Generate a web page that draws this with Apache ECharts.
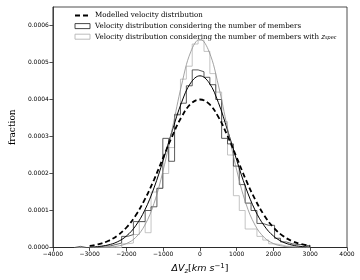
<!DOCTYPE html>
<html>
<head>
<meta charset="utf-8">
<script src="https://cdn.jsdelivr.net/npm/echarts@6/dist/echarts.min.js"></script>
<style>html,body{margin:0;padding:0;background:#fff}#c{width:360px;height:280px}</style>
</head>
<body>
<div id="c"></div>
<script>
// Smooth curves sampled every 250 km/s
const curveX = [-3000,-2750,-2500,-2250,-2000,-1750,-1500,-1250,-1000,-750,-500,-250,0,250,500,750,1000,1250,1500,1750,2000,2250,2500,2750,3000];
const modelled = [0.0000044,0.0000091,0.0000176,0.0000318,0.0000541,0.0000865,0.000130,0.000183,0.000243,0.000302,0.000353,0.000388,0.000400,0.000388,0.000353,0.000302,0.000243,0.000183,0.000130,0.0000865,0.0000541,0.0000318,0.0000176,0.0000091,0.0000044];
const fitMembers = [0.0000011,0.0000028,0.0000068,0.0000151,0.000031,0.0000585,0.000101,0.000161,0.000236,0.000317,0.000392,0.000445,0.000464,0.000445,0.000392,0.000317,0.000236,0.000161,0.000101,0.0000585,0.000031,0.0000151,0.0000068,0.0000028,0.0000011];
const fitZspec = [0.0000001,0.0000003,0.0000011,0.0000037,0.0000106,0.000027,0.0000604,0.000119,0.000209,0.000322,0.000439,0.000529,0.000563,0.000529,0.000439,0.000322,0.000209,0.000119,0.0000604,0.000027,0.0000106,0.0000037,0.0000011,0.0000003,0.0000001];

// Histogram bin edges and heights
const histEdges = [-3410,-3250,-3090,-2930,-2770,-2610,-2450,-2290,-2130,-1970,-1810,-1650,-1490,-1330,-1170,-1010,-850,-690,-530,-370,-210,-50,110,270,430,590,750,910,1070,1230,1390,1550,1710,1870,2030,2190,2350,2510,2670,2830,2990];
const histMembers = [0.000003,0,0,0,0.000004,0.000004,0.000008,0.000012,0.000030,0.000035,0.000070,0.000070,0.000100,0.000110,0.000160,0.000295,0.000233,0.000360,0.000390,0.000437,0.000480,0.000475,0.000460,0.000440,0.000400,0.000295,0.000280,0.000220,0.000170,0.000120,0.000100,0.000065,0.000060,0.000060,0.000025,0.000015,0.000010,0.000008,0.000008,0.000004];
const histZspec = [0,0,0,0,0,0,0,0,0.000010,0.000012,0.000035,0.000070,0.000040,0.000150,0.000160,0.000200,0.000270,0.000357,0.000455,0.000490,0.000550,0.000560,0.000530,0.000470,0.000420,0.000340,0.000250,0.000140,0.000100,0.000050,0.000050,0.000030,0.000020,0.000010,0.000008,0.000004,0.000003,0.000002,0.000003,0];

const yTicks = [0,0.0001,0.0002,0.0003,0.0004,0.0005,0.0006];

const names = ['Modelled velocity distribution','Velocity distribution considering the number of members','Velocity distribution considering the number of members with zspec'];

function stepData(edges, vals){
  const d = [[edges[0],0]];
  for (let i=0;i<vals.length;i++) d.push([edges[i], vals[i]]);
  d.push([edges[edges.length-1], 0]);
  return d;
}
function curve(xs, ys){ return xs.map((x,i)=>[x, ys[i]]); }

const chart = echarts.init(document.getElementById('c'), null, {renderer:'canvas'});
const sans = 'DejaVu Sans';
const serif = 'DejaVu Serif';
const lf = 7.1;
chart.setOption({
  animation:false,
  backgroundColor:'#fff',
  grid:{left:40,right:13,top:7,bottom:30,show:true,borderColor:'#222',borderWidth:0.8,backgroundColor:'transparent'},
  legend:{
    orient:'vertical', left:74, top:12, padding:0, itemWidth:15, itemHeight:5, itemGap:3.6,
    textStyle:{fontFamily:serif,fontSize:lf,color:'#000',
      rich:{
        t:{fontFamily:serif,fontSize:lf,color:'#000'},
        z:{fontFamily:sans,fontStyle:'italic',fontSize:lf,color:'#000'},
        s:{fontFamily:sans,fontStyle:'italic',fontSize:5,color:'#000',padding:[3,0,0,0]}
      }},
    formatter: function(n){
      if (n===names[2]) return '{t|Velocity distribution considering the number of members with }{z|z}{s|spec}';
      return n;
    },
    data:[
      {name:names[0], itemStyle:{color:'rgba(0,0,0,0)',borderWidth:0,opacity:0}},
      {name:names[1], icon:'rect', itemStyle:{color:'#fff',borderColor:'#333',borderWidth:0.9}},
      {name:names[2], icon:'rect', itemStyle:{color:'#fff',borderColor:'#b5b5b5',borderWidth:0.9}}
    ]
  },
  xAxis:{
    type:'value', min:-4000, max:4000, interval:1000,
    splitLine:{show:false},
    axisLine:{show:true,onZero:false,lineStyle:{color:'#222',width:0.8}},
    axisTick:{show:true,inside:false,length:3.5,lineStyle:{color:'#222',width:0.8}},
    axisLabel:{fontFamily:sans,fontSize:6,color:'#000',margin:4,
      formatter:v=>String(v).replace('-','\u2212')},
    name:'{a|ΔV}{b|z}{c|[}{a|km s}{d|−1}{c|]}',
    nameLocation:'middle', nameGap:15,
    nameTextStyle:{rich:{
      a:{fontFamily:sans,fontStyle:'italic',fontSize:9.5,color:'#000'},
      b:{fontFamily:sans,fontStyle:'italic',fontSize:7,color:'#000',padding:[5,0,0,0]},
      c:{fontFamily:sans,fontSize:9.5,color:'#000'},
      d:{fontFamily:sans,fontSize:7,color:'#000',padding:[0,0,6,0]}
    }}
  },
  yAxis:{
    type:'value', min:0, max:0.00065, interval:0.0001,
    splitLine:{show:false},
    axisLine:{show:true,onZero:false,lineStyle:{color:'#222',width:0.8}},
    axisTick:{show:true,inside:false,length:3.5,lineStyle:{color:'#222',width:0.8}},
    axisLabel:{fontFamily:sans,fontSize:6,color:'#000',margin:4,showMaxLabel:false,
      formatter:v=>{ return yTicks.some(t=>Math.abs(t-v)<1e-9) ? v.toFixed(4) : ''; }},
    name:'fraction', nameLocation:'middle', nameGap:31, nameRotate:90,
    nameTextStyle:{fontFamily:serif,fontSize:9,color:'#000'}
  },
  series:[
    {name:names[0], type:'line', data:curve(curveX, modelled), smooth:0.4, symbol:'none',
      lineStyle:{color:'#000',width:1.8,type:[5,3]}, itemStyle:{color:'#000'}, z:5},
    {name:names[1], type:'line', data:stepData(histEdges, histMembers), step:'end', symbol:'none',
      lineStyle:{color:'#333',width:0.8}, itemStyle:{color:'#333'}, z:3},
    {name:names[2], type:'line', data:stepData(histEdges, histZspec), step:'end', symbol:'none',
      lineStyle:{color:'#b5b5b5',width:0.8}, itemStyle:{color:'#b5b5b5'}, z:2},
    {name:'fitMembers', type:'line', data:curve(curveX, fitMembers), smooth:0.4, symbol:'none',
      lineStyle:{color:'#000',width:1.0}, z:4},
    {name:'fitZspec', type:'line', data:curve(curveX, fitZspec), smooth:0.4, symbol:'none',
      lineStyle:{color:'#8c8c8c',width:0.8}, z:4}
  ]
});
</script>
</body>
</html>
